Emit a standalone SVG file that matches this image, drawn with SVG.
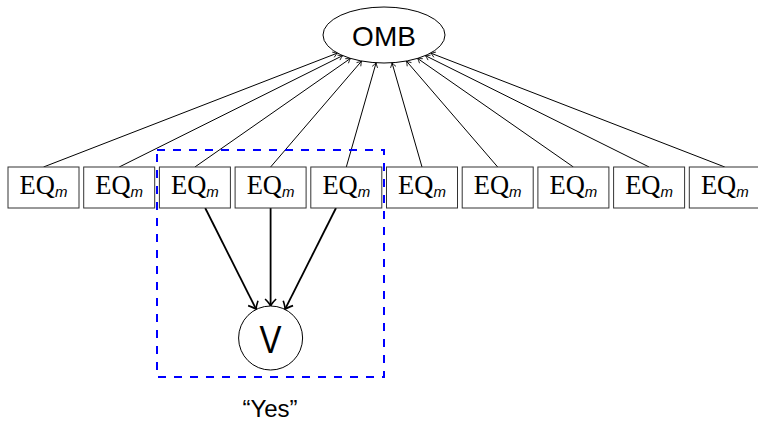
<svg xmlns="http://www.w3.org/2000/svg" width="758" height="426" viewBox="0 0 758 426">
<defs>
<style>
.box{fill:#fff;stroke:#333;stroke-width:1}
.eq{font-family:"Liberation Serif","DejaVu Serif",serif;font-size:26.5px;fill:#000}
.sub{font-family:"Liberation Sans","DejaVu Sans",sans-serif;font-style:italic;font-size:15px}
.sans{font-family:"Liberation Sans","DejaVu Sans",sans-serif;fill:#000}
.thin{stroke:#000;stroke-width:1;fill:none}
.thick{stroke:#000;stroke-width:1.8;fill:none}
.node{fill:#fff;stroke:#000;stroke-width:1}
</style>
<marker id="sm" markerUnits="userSpaceOnUse" markerWidth="10" markerHeight="10" viewBox="-6 -5 8 10" refX="0" refY="0" orient="auto"><path d="M-4.5,-2.8 Q-1.5,-0.6 0,0 Q-1.5,0.6 -4.5,2.8" fill="none" stroke="#000" stroke-width="0.8"/></marker>
<marker id="bg" markerUnits="userSpaceOnUse" markerWidth="12" markerHeight="14" viewBox="-9 -7 11 14" refX="0" refY="0" orient="auto"><path d="M-7,-5.5 Q-2.5,-1 0,0 Q-2.5,1 -7,5.5" fill="none" stroke="#000" stroke-width="1.6"/></marker>
</defs>
<rect width="758" height="426" fill="#fff"/>

<g id="connectors">
<line class="thin" x1="43.5" y1="167" x2="337.4" y2="53.1" marker-end="url(#sm)"/>
<line class="thin" x1="119.2" y1="167" x2="342.7" y2="55.6" marker-end="url(#sm)"/>
<line class="thin" x1="194.9" y1="167" x2="350.5" y2="58.4" marker-end="url(#sm)"/>
<line class="thin" x1="270.6" y1="167" x2="361.6" y2="61.05" marker-end="url(#sm)"/>
<line class="thin" x1="346.3" y1="167" x2="376.1" y2="62.8" marker-end="url(#sm)"/>
<line class="thin" x1="422" y1="167" x2="392" y2="62.8" marker-end="url(#sm)"/>
<line class="thin" x1="497.7" y1="167" x2="406.4" y2="61.05" marker-end="url(#sm)"/>
<line class="thin" x1="573.4" y1="167" x2="417.5" y2="58.4" marker-end="url(#sm)"/>
<line class="thin" x1="649.1" y1="167" x2="425.3" y2="55.6" marker-end="url(#sm)"/>
<line class="thin" x1="724.8" y1="167" x2="430.7" y2="53.1" marker-end="url(#sm)"/>
<line class="thick" x1="205.2" y1="208" x2="256.2" y2="309.4" marker-end="url(#bg)"/>
<line class="thick" x1="270.6" y1="208" x2="270.6" y2="306" marker-end="url(#bg)"/>
<line class="thick" x1="336" y1="208" x2="285" y2="309.4" marker-end="url(#bg)"/>
</g>

<g id="group-box">
<rect x="157" y="150" width="227" height="227" fill="none" stroke="#0000ff" stroke-width="2" stroke-dasharray="8 8"/>
</g>

<g id="OMB">
<ellipse class="node" cx="384" cy="35" rx="61" ry="28"/>
<text class="sans" x="384" y="46" font-size="28" text-anchor="middle">OMB</text>
</g>

<g id="eq1"><rect class="box" x="8" y="167" width="71" height="41"/><text class="eq" x="43.5" y="194" text-anchor="middle">EQ<tspan class="sub" dy="3">m</tspan></text></g>
<g id="eq2"><rect class="box" x="83.7" y="167" width="71" height="41"/><text class="eq" x="119.2" y="194" text-anchor="middle">EQ<tspan class="sub" dy="3">m</tspan></text></g>
<g id="eq3"><rect class="box" x="159.4" y="167" width="71" height="41"/><text class="eq" x="194.9" y="194" text-anchor="middle">EQ<tspan class="sub" dy="3">m</tspan></text></g>
<g id="eq4"><rect class="box" x="235.1" y="167" width="71" height="41"/><text class="eq" x="270.6" y="194" text-anchor="middle">EQ<tspan class="sub" dy="3">m</tspan></text></g>
<g id="eq5"><rect class="box" x="310.8" y="167" width="71" height="41"/><text class="eq" x="346.3" y="194" text-anchor="middle">EQ<tspan class="sub" dy="3">m</tspan></text></g>
<g id="eq6"><rect class="box" x="386.5" y="167" width="71" height="41"/><text class="eq" x="422" y="194" text-anchor="middle">EQ<tspan class="sub" dy="3">m</tspan></text></g>
<g id="eq7"><rect class="box" x="462.2" y="167" width="71" height="41"/><text class="eq" x="497.7" y="194" text-anchor="middle">EQ<tspan class="sub" dy="3">m</tspan></text></g>
<g id="eq8"><rect class="box" x="537.9" y="167" width="71" height="41"/><text class="eq" x="573.4" y="194" text-anchor="middle">EQ<tspan class="sub" dy="3">m</tspan></text></g>
<g id="eq9"><rect class="box" x="613.6" y="167" width="71" height="41"/><text class="eq" x="649.1" y="194" text-anchor="middle">EQ<tspan class="sub" dy="3">m</tspan></text></g>
<g id="eq10"><rect class="box" x="689.3" y="167" width="71" height="41"/><text class="eq" x="724.8" y="194" text-anchor="middle">EQ<tspan class="sub" dy="3">m</tspan></text></g>

<g id="V">
<circle class="node" cx="270.6" cy="338" r="32"/>
<text class="sans" x="270.6" y="353" font-size="38" text-anchor="middle" textLength="22" lengthAdjust="spacingAndGlyphs">V</text>
</g>

<g id="yes-label">
<text class="sans" x="270" y="417" font-size="24" text-anchor="middle">“Yes”</text>
</g>
</svg>
